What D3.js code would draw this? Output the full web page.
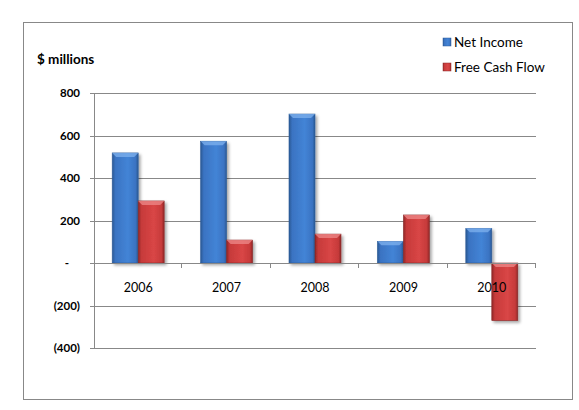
<!DOCTYPE html>
<html>
<head>
  <meta charset="utf-8">
  <title>Net Income vs Free Cash Flow</title>
  <script src="https://cdnjs.cloudflare.com/ajax/libs/d3/7.8.5/d3.min.js"></script>
  <style>
    body { margin: 0; background: #fff; }
    svg text { font-family: Lato, "Open Sans", sans-serif; fill: #000; }
  </style>
</head>
<body>
<div id="chart"></div>
<script>
var years = ["2006", "2007", "2008", "2009", "2010"];
var netIncome = [518, 573, 701, 102, 163];
var freeCashFlow = [292, 108, 136, 226, -271];
var seriesNames = ["Net Income", "Free Cash Flow"];
var yTicks = [-400, -200, 0, 200, 400, 600, 800];

var W = 579, H = 410;
var m = { left: 94, right: 43, top: 93, bottom: 62 };

var svg = d3.select("#chart").append("svg")
  .attr("width", W).attr("height", H);

var defs = svg.append("defs");
function grad(id, dark, mid, light) {
  var g = defs.append("linearGradient").attr("id", id)
    .attr("x1", "0%").attr("x2", "100%").attr("y1", "0%").attr("y2", "0%");
  g.append("stop").attr("offset", "0%").attr("stop-color", dark);
  g.append("stop").attr("offset", "12%").attr("stop-color", mid);
  g.append("stop").attr("offset", "60%").attr("stop-color", light);
  g.append("stop").attr("offset", "90%").attr("stop-color", mid);
  g.append("stop").attr("offset", "100%").attr("stop-color", dark);
}
grad("gBlue", "#2a5892", "#3a73c2", "#4384d6");
grad("gRed", "#8f2626", "#c63a3a", "#d94646");
var sh = defs.append("filter").attr("id", "shadow")
  .attr("x", "-20%").attr("y", "-10%").attr("width", "160%").attr("height", "130%");
sh.append("feDropShadow").attr("dx", 2).attr("dy", 2).attr("stdDeviation", 1.5)
  .attr("flood-color", "#000").attr("flood-opacity", 0.35);

// outer frame
svg.append("rect").attr("x", 23.5).attr("y", 22.5).attr("width", 549).attr("height", 377)
  .attr("fill", "none").attr("stroke", "#888").attr("stroke-width", 1);

var x = d3.scaleBand().domain(years).range([m.left, W - m.right]);
var xs = d3.scaleBand().domain(seriesNames).range([0, x.bandwidth()]).paddingOuter(0.7).paddingInner(0);
var y = d3.scaleLinear().domain([-400, 800]).range([H - m.bottom, m.top]);

// gridlines
svg.append("g").selectAll("line").data(yTicks.filter(function(d) { return d !== 0; })).enter().append("line")
  .attr("x1", m.left - 4).attr("x2", W - m.right)
  .attr("y1", function(d) { return Math.round(y(d)) + 0.5; })
  .attr("y2", function(d) { return Math.round(y(d)) + 0.5; })
  .attr("stroke", "#888");

// y axis line
svg.append("line").attr("x1", m.left + 0.5).attr("x2", m.left + 0.5)
  .attr("y1", y(800)).attr("y2", y(-400)).attr("stroke", "#888");

// y labels
svg.append("g").selectAll("text").data(yTicks).enter().append("text")
  .attr("x", function(d) { return d === 0 ? 69 : 80; })
  .attr("y", function(d) { return y(d) + 4; })
  .attr("text-anchor", "end")
  .style("font-size", "11.5px").style("font-weight", "bold")
  .text(function(d) { return d === 0 ? "-" : d < 0 ? "(" + (-d) + ")" : d; });

var data = years.map(function(yr, i) {
  return { year: yr, vals: [{ s: seriesNames[0], v: netIncome[i] }, { s: seriesNames[1], v: freeCashFlow[i] }] };
});

var groups = svg.append("g").selectAll("g").data(data).enter().append("g")
  .attr("transform", function(d) { return "translate(" + x(d.year) + ",0)"; });

var bars = groups.selectAll("g").data(function(d) { return d.vals; }).enter().append("g");
bars.append("rect")
  .attr("x", function(d) { return xs(d.s); })
  .attr("y", function(d) { return y(Math.max(0, d.v)); })
  .attr("width", xs.bandwidth())
  .attr("height", function(d) { return Math.abs(y(d.v) - y(0)); })
  .attr("fill", function(d) { return d.s === seriesNames[0] ? "url(#gBlue)" : "url(#gRed)"; })
  .attr("stroke", function(d) { return d.s === seriesNames[0] ? "#2d5d9b" : "#8a2a2a"; })
  .attr("stroke-width", 0.6)
  .attr("filter", "url(#shadow)");
// top bevel highlight
bars.append("path")
  .attr("d", function(d) {
    var x0 = xs(d.s), w = xs.bandwidth(), top = d.v >= 0 ? y(d.v) : y(0), b = 4;
    return "M" + x0 + "," + top + "L" + (x0 + w) + "," + top +
      "L" + (x0 + w - b) + "," + (top + b) + "L" + (x0 + b) + "," + (top + b) + "Z";
  })
  .attr("fill", function(d) { return d.s === seriesNames[0] ? "#7fb1ee" : "#ee8a8a"; })
  .attr("opacity", 0.75);

// zero line and category ticks (drawn after bars)
svg.append("line").attr("x1", m.left - 4).attr("x2", W - m.right)
  .attr("y1", Math.round(y(0)) + 0.5).attr("y2", Math.round(y(0)) + 0.5).attr("stroke", "#888");
svg.append("g").selectAll("line").data(years.slice(1).concat(["end"])).enter().append("line")
  .attr("x1", function(d) { return Math.round(d === "end" ? W - m.right : x(d)) - 0.5; })
  .attr("x2", function(d) { return Math.round(d === "end" ? W - m.right : x(d)) - 0.5; })
  .attr("y1", y(0)).attr("y2", y(0) + 5).attr("stroke", "#888");

// category labels
svg.append("g").selectAll("text").data(years).enter().append("text")
  .attr("x", function(d) { return x(d) + x.bandwidth() / 2; })
  .attr("y", y(0) + 29)
  .attr("text-anchor", "middle")
  .style("font-size", "12.5px")
  .text(function(d) { return d; });

// axis title
svg.append("text").attr("x", 37).attr("y", 64)
  .style("font-size", "13.5px").style("font-weight", "bold").text("$ millions");

// legend
var leg = svg.append("g").selectAll("g").data(seriesNames).enter().append("g")
  .attr("transform", function(d, i) { return "translate(443," + (38 + i * 25) + ")"; });
leg.append("rect").attr("width", 8).attr("height", 8)
  .attr("fill", function(d, i) { return i === 0 ? "url(#gBlue)" : "url(#gRed)"; })
  .attr("stroke", function(d, i) { return i === 0 ? "#2d5d9b" : "#8a2a2a"; }).attr("stroke-width", 0.5);
leg.append("text").attr("x", 11).attr("y", 9)
  .style("font-size", "13.5px").text(function(d) { return d; });
</script>
</body>
</html>
